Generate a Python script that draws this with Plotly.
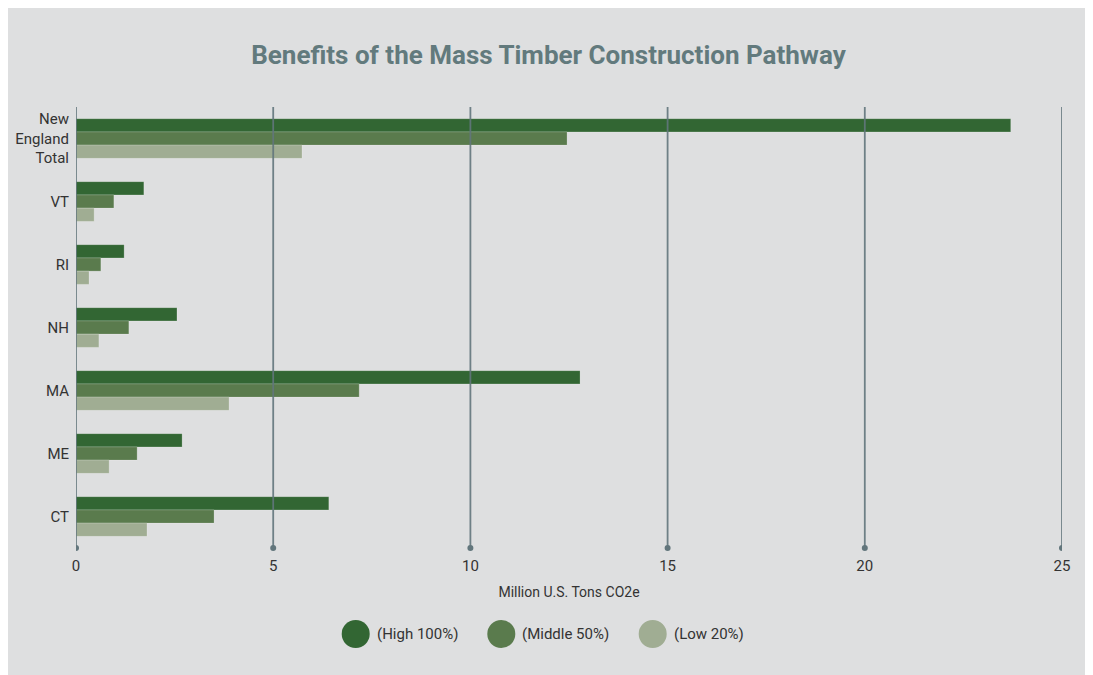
import plotly.graph_objects as go

categories = ["New<br>England<br>Total", "VT", "RI", "NH", "MA", "ME", "CT"]
series_names = ["(High 100%)", "(Middle 50%)", "(Low 20%)"]
high = [23.7, 1.72, 1.22, 2.56, 12.78, 2.69, 6.41]
middle = [12.45, 0.96, 0.63, 1.34, 7.18, 1.55, 3.50]
low = [5.73, 0.46, 0.33, 0.58, 3.88, 0.84, 1.80]
x_ticks = [0, 5, 10, 15, 20, 25]

colors = ["#326633", "#5a7b4d", "#a0ad93"]
grid_col = "rgba(98,118,124,0.9)"
FONT = "Roboto, Liberation Sans, sans-serif"
BG = "#dedfe0"

W, H = 1093, 675
ml, mr, mt, mb = 68, 39, 99, 135
pw, ph = W - ml - mr, H - mt - mb

fig = go.Figure()
for name, vals, col in zip(series_names, [high, middle, low], colors):
    fig.add_trace(go.Bar(
        y=categories, x=vals, name=name, orientation="h",
        marker=dict(color=col, line=dict(width=0.8, color="rgba(255,255,255,0.25)")),
        showlegend=False,
    ))

shapes = []
# gridlines above bars, with dots at bottom
for t in x_ticks:
    shapes.append(dict(type="line", xref="x", yref="paper", x0=t, x1=t, y0=0, y1=1,
                       line=dict(color=grid_col, width=1.8), layer="above"))
    shapes.append(dict(type="circle", xref="x", yref="paper", xsizemode="pixel", ysizemode="pixel",
                       xanchor=t, yanchor=0, x0=-3, x1=3, y0=-3, y1=3,
                       fillcolor="#62767c", line=dict(width=0), layer="above"))

# custom legend with large circles
legend_x = [347.7, 493.3, 644.7]
legend_y = 626
annotations = []
for name, col, cx in zip(series_names, colors, legend_x):
    xp = (cx - ml) / pw
    yp = (H - mb - legend_y) / ph
    shapes.append(dict(type="circle", xref="paper", yref="paper", xsizemode="pixel", ysizemode="pixel",
                       xanchor=xp, yanchor=yp, x0=-14, x1=14, y0=-14, y1=14,
                       fillcolor=col, line=dict(width=0)))
    annotations.append(dict(xref="paper", yref="paper", x=(cx + 19 - ml) / pw, y=yp,
                            text=name, showarrow=False, xanchor="left", yanchor="middle",
                            font=dict(size=15, color="#333333", family=FONT)))

fig.update_layout(
    width=W, height=H,
    margin=dict(l=ml, r=mr, t=mt, b=mb),
    paper_bgcolor=BG, plot_bgcolor=BG,
    barmode="group", bargap=0.37, bargroupgap=0,
    title=dict(text="<b>Benefits of the Mass Timber Construction Pathway</b>",
               x=0.4945, xref="container", xanchor="center", y=1 - 47 / H, yanchor="middle",
               font=dict(size=26, color="#627a7d", family=FONT)),
    font=dict(family=FONT, color="#333333", size=15),
    xaxis=dict(range=[0, 25], tickvals=x_ticks, showgrid=False, zeroline=False, automargin=False,
               ticks="outside", ticklen=4, tickcolor="rgba(0,0,0,0)",
               tickfont=dict(size=15, color="#333333"),
               title=dict(text="Million U.S. Tons CO2e", font=dict(size=14, color="#333333"), standoff=13)),
    yaxis=dict(autorange="reversed", showgrid=False, zeroline=False, showline=False, automargin=False,
               ticks="outside", ticklen=3, tickcolor="rgba(0,0,0,0)",
               tickfont=dict(size=15, color="#333333")),
    shapes=shapes, annotations=annotations,
    showlegend=False,
)

fig.write_html("out.html")
